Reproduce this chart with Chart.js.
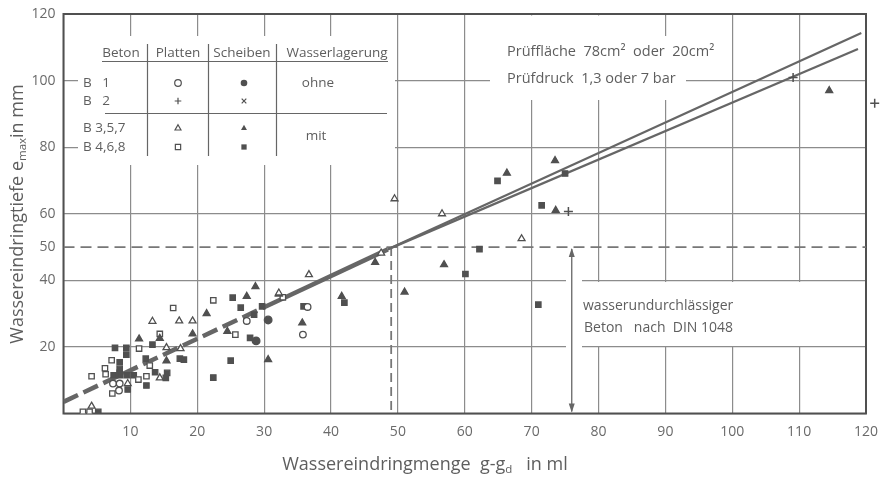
<!DOCTYPE html>
<html><head><meta charset="utf-8">
<script src="https://cdn.jsdelivr.net/npm/chart.js@4/dist/chart.umd.min.js"></script>
<style>html,body{margin:0;padding:0;background:#fff}#wrap{width:880px;height:477px;position:relative}</style>
</head><body><div id="wrap"><canvas id="c"></canvas></div>
<script>
// ---- tick labels ----
const xTicks = [10,20,30,40,50,60,70,80,90,100,110,120];
const yTicks = [20,40,50,60,80,100,120];

// ---- categories (legend table) ----
const betonLabels = ["B   1", "B   2", "B 3,5,7", "B 4,6,8"];
const lagerLabels = ["ohne", "mit"];

// ---- series: [x, y] = [Wassereindringmenge g-g_d in ml, e_max in mm] ----
const b1Platten = [[7.4,9.0],[8.4,9.0],[8.3,6.9],[27.4,27.8],[35.8,23.7],[36.5,32.0]];
const b1Scheiben = [[30.6,28.1],[28.8,21.8]];
const b2Platten = [[109.1,100.9],[121.3,93.2],[75.5,60.7]];
const b2Scheiben = [];
const b357Platten = [[13.3,27.7],[17.3,27.8],[19.3,27.8],[15.4,19.8],[17.5,19.5],[14.4,10.7],[9.6,9.0],[4.2,2.2],
  [32.2,36.2],[36.7,41.7],[49.5,64.5],[56.6,60.0],[68.5,52.5],[47.5,48.2]];
const b357Scheiben = [[11.3,22.4],[14.4,22.6],[19.3,23.9],[21.4,30.0],[15.4,15.8],[24.5,24.7],[27.4,35.2],[28.7,38.1],
  [30.6,16.2],[35.7,27.2],[32.2,35.9],[41.6,35.2],[46.6,45.4],[51.0,36.5],[56.9,44.7],[66.3,72.2],[73.5,76.0],
  [73.6,61.0],[114.5,97.0]];
const b468Platten = [[16.4,31.7],[14.4,23.9],[11.3,19.5],[7.2,16.0],[6.2,13.6],[6.3,11.8],[4.2,11.2],[12.9,14.4],
  [11.2,10.2],[12.4,11.2],[7.3,6.0],[2.9,0.5],[3.9,0.5],[22.4,34.0],[25.7,23.7],[32.8,34.9]];
const b468Scheiben = [[7.7,19.7],[9.4,19.7],[9.4,17.7],[13.3,20.7],[12.3,16.5],[17.4,16.5],[18.0,16.2],[8.4,15.4],
  [8.4,13.4],[8.4,12.2],[13.7,12.4],[15.5,12.2],[15.3,10.7],[12.4,8.4],[9.6,7.2],[5.2,0.5],[7.5,11.5],[8.5,11.5],
  [9.5,11.5],[10.5,11.5],[25.3,34.8],[26.5,31.8],[29.7,32.2],[28.5,29.7],[27.9,22.7],[25.0,15.9],[22.4,10.8],
  [35.9,32.2],[42.0,33.3],[60.1,41.9],[62.2,49.4],[64.9,69.9],[71.5,62.5],[75.0,72.1],[71.0,32.7]];

// ---- reference / regression lines ----
const regCommon = [[0,3.5],[30,31.9],[48.5,49.3]];
const regUpper = [[48.5,49.3],[119.3,114.3]];
const regLower = [[48.5,49.3],[118.8,109.5]];
const limit50 = [[0,50],[120,50]];
const limitX = [[49,50],[49,0]];
const arrowX = 76.0, arrowY = [50, 0];

const pts = a => a.map(p => ({x:p[0], y:p[1]}));
const INK = '#505050', GRID = '#8c8c8c', TXT = '#5e5e5e';

function markerDs(label, data, style, filled, r, extra) {
  return Object.assign({label, data: pts(data), pointStyle: style, pointRadius: r,
    pointBackgroundColor: filled ? INK : '#fff', pointBorderColor: INK, pointBorderWidth: 1.3,
    showLine: false}, extra || {});
}
function lineDs(label, data, w, dash, extra) {
  return Object.assign({label, data: pts(data), showLine: true, pointRadius: 0, borderColor: '#666',
    borderWidth: w, borderDash: dash || [], fill: false}, extra || {});
}

const datasets = [
  markerDs('B 1 Platten', b1Platten, 'circle', false, 3.3),
  markerDs('B 1 Scheiben', b1Scheiben, 'circle', true, 3.8),
  markerDs('B 2 Platten', b2Platten, 'cross', false, 4.5, {pointBorderWidth: 1.5, clip: false}),
  markerDs('B 2 Scheiben', b2Scheiben, 'crossRot', false, 3.5),
  markerDs('B 3,5,7 Platten', b357Platten, 'triangle', false, 4),
  markerDs('B 3,5,7 Scheiben', b357Scheiben, 'triangle', true, 4),
  markerDs('B 4,6,8 Platten', b468Platten, 'rect', false, 3.8),
  markerDs('B 4,6,8 Scheiben', b468Scheiben, 'rect', true, 3.8),
  lineDs('Ausgleich', regCommon, 4.5, [], {segment: {borderDash: c => c.p0DataIndex === 0 ? [16,6] : undefined}}),
  lineDs('Ausgleich oben', regUpper, 2.2),
  lineDs('Ausgleich unten', regLower, 2.2),
  lineDs('Grenze 50 mm', limit50, 1.8, [11,6], {borderColor:'#777'}),
  lineDs('Grenze x', limitX, 1.8, [9,5], {borderColor:'#777'})
];

function drawSym(ctx, type, x, y, r) {
  ctx.save();
  ctx.strokeStyle = INK; ctx.fillStyle = INK; ctx.lineWidth = 1.2;
  ctx.beginPath();
  if (type === 'oc' || type === 'fc') { ctx.arc(x, y, r, 0, Math.PI*2); type==='fc' ? ctx.fill() : ctx.stroke(); }
  else if (type === 'plus') { ctx.moveTo(x-r,y); ctx.lineTo(x+r,y); ctx.moveTo(x,y-r); ctx.lineTo(x,y+r); ctx.stroke(); }
  else if (type === 'x') { ctx.moveTo(x-r*0.7,y-r*0.7); ctx.lineTo(x+r*0.7,y+r*0.7); ctx.moveTo(x+r*0.7,y-r*0.7); ctx.lineTo(x-r*0.7,y+r*0.7); ctx.stroke(); }
  else if (type === 'ot' || type === 'ft') { ctx.moveTo(x, y-r); ctx.lineTo(x+r*0.9, y+r*0.6); ctx.lineTo(x-r*0.9, y+r*0.6); ctx.closePath(); type==='ft' ? ctx.fill() : ctx.stroke(); }
  else { ctx.rect(x-r*0.8, y-r*0.8, r*1.6, r*1.6); type==='fs' ? ctx.fill() : ctx.stroke(); }
  ctx.restore();
}

const decor = {
  id: 'decor',
  beforeDatasetsDraw(chart) {
    const {ctx, chartArea: a} = chart;
    ctx.save();
    ctx.fillStyle = '#fff';
    // blank regions behind text blocks (gridlines interrupted like the original)
    ctx.fillRect(78, 36, 317, 129);
    ctx.fillRect(490, 36, 196, 64);
    ctx.fillRect(500, 15.5, 140, 22);
    ctx.fillRect(566, 282, 235, 64);
    ctx.fillRect(566, 277, 16, 74);
    // frame
    ctx.strokeStyle = INK; ctx.lineWidth = 2;
    ctx.strokeRect(a.left, a.top, a.right - a.left, a.bottom - a.top);
    ctx.restore();
  },
  afterDraw(chart) {
    const {ctx} = chart;
    const xs = chart.scales.x, ys = chart.scales.y;
    ctx.save();
    // points that lie beyond the axis range (drawn outside the frame, as in the original)
    b2Platten.filter(p => p[0] > xs.max).forEach(p => {
      ctx.save(); ctx.lineWidth = 1.5; ctx.strokeStyle = INK;
      const px = xs.getPixelForValue(p[0]), py = ys.getPixelForValue(p[1]);
      ctx.beginPath(); ctx.moveTo(px-4.5, py); ctx.lineTo(px+4.5, py); ctx.moveTo(px, py-4.5); ctx.lineTo(px, py+4.5); ctx.stroke();
      ctx.restore();
    });
    ctx.fillStyle = TXT; ctx.strokeStyle = INK;
    ctx.textBaseline = 'middle';
    // legend table
    ctx.font = '13.5px "Open Sans"';
    ctx.textAlign = 'center';
    ctx.fillText('Beton', 121, 53); ctx.fillText('Platten', 178, 53);
    ctx.fillText('Scheiben', 242, 53); ctx.fillText('Wasserlagerung', 337, 53);
    ctx.lineWidth = 1.2; ctx.strokeStyle = '#666';
    ctx.beginPath();
    ctx.moveTo(102, 61.5); ctx.lineTo(388, 61.5);
    ctx.moveTo(105, 113.5); ctx.lineTo(387, 113.5);
    [147, 208, 276].forEach(x => { ctx.moveTo(x+0.5, 44); ctx.lineTo(x+0.5, 156); });
    ctx.stroke();
    ctx.textAlign = 'left';
    const rowsY = [83, 101, 128, 147];
    betonLabels.forEach((t, i) => ctx.fillText(t, 83, rowsY[i]));
    const syms = [['oc','fc'],['plus','x'],['ot','ft'],['os','fs']];
    syms.forEach((s, i) => { drawSym(ctx, s[0], 178, rowsY[i], 3.3); drawSym(ctx, s[1], 244, rowsY[i], 3.3); });
    ctx.textAlign = 'center';
    ctx.fillText(lagerLabels[0], 318, 83);
    ctx.fillText(lagerLabels[1], 316, 136);
    // annotations
    ctx.textAlign = 'left';
    ctx.font = '14.5px "Open Sans"';
    ctx.fillText('Prüffläche  78cm²  oder  20cm²', 507, 52);
    ctx.fillText('Prüfdruck  1,3 oder 7 bar', 507, 79);
    ctx.font = '14px "Open Sans"';
    ctx.fillText('wasserundurchlässiger', 583, 306);
    ctx.fillText('Beton   nach  DIN 1048', 584, 328);
    // double arrow
    const ax = xs.getPixelForValue(arrowX), ay1 = ys.getPixelForValue(arrowY[0]), ay2 = ys.getPixelForValue(arrowY[1]);
    ctx.strokeStyle = '#666'; ctx.fillStyle = '#666'; ctx.lineWidth = 1.3;
    ctx.beginPath(); ctx.moveTo(ax, ay1 + 2); ctx.lineTo(ax, ay2 - 2); ctx.stroke();
    ctx.beginPath(); ctx.moveTo(ax, ay1 + 1); ctx.lineTo(ax - 3, ay1 + 10); ctx.lineTo(ax + 3, ay1 + 10); ctx.closePath(); ctx.fill();
    ctx.beginPath(); ctx.moveTo(ax, ay2 - 1); ctx.lineTo(ax - 3, ay2 - 10); ctx.lineTo(ax + 3, ay2 - 10); ctx.closePath(); ctx.fill();
    // axis titles with subscripts
    ctx.fillStyle = TXT;
    const big = '18px "Open Sans"', small = '11.5px "Open Sans"';
    function runs(parts) {
      let w = 0;
      parts.forEach(p => { ctx.font = p[1] ? small : big; w += ctx.measureText(p[0]).width; });
      return w;
    }
    function drawRuns(parts, x, y) {
      ctx.textAlign = 'left';
      parts.forEach(p => { ctx.font = p[1] ? small : big; ctx.fillText(p[0], x, y + (p[1] ? 5 : 0)); x += ctx.measureText(p[0]).width; });
    }
    const xt = [['Wassereindringmenge  g-g', 0], ['d', 1], ['   in ml', 0]];
    drawRuns(xt, 425 - runs(xt) / 2, 465);
    const yt = [['Wassereindringtiefe e', 0], ['max', 1], ['in mm', 0]];
    ctx.save();
    ctx.translate(18, 214); ctx.rotate(-Math.PI / 2);
    drawRuns(yt, -runs(yt) / 2, 0);
    ctx.restore();
    ctx.restore();
  }
};

const tickFont = {family: 'Open Sans', size: 14};
new Chart(document.getElementById('c'), {
  type: 'scatter',
  data: {datasets},
  options: {
    responsive: true, maintainAspectRatio: false, animation: false,
    layout: {padding: {top: 14, right: 14, left: 0, bottom: 0}},
    plugins: {legend: {display: false}, tooltip: {enabled: false}},
    scales: {
      x: {
        type: 'linear', min: 0, max: 120,
        afterBuildTicks: s => { s.ticks = [0, ...xTicks].map(v => ({value: v})); },
        afterFit: s => { s.height = 63.5; s.paddingLeft = 0; s.paddingRight = 0; },
        grid: {color: GRID, lineWidth: 1.2, drawTicks: false},
        border: {display: false},
        ticks: {callback: v => v === 0 ? '' : String(v), font: tickFont, color: '#6a6a6a', padding: 10, maxRotation: 0, autoSkip: false}
      },
      y: {
        type: 'linear', min: 0, max: 120,
        afterBuildTicks: s => { s.ticks = [0, ...yTicks].map(v => ({value: v})); },
        afterFit: s => { s.width = 63.5; s.paddingTop = 0; s.paddingBottom = 0; },
        grid: {color: c => (c.tick && c.tick.value === 50) ? 'rgba(0,0,0,0)' : GRID, lineWidth: 1.2, drawTicks: false},
        border: {display: false},
        ticks: {callback: v => v === 0 ? '' : String(v), font: tickFont, color: '#6a6a6a', padding: 8, autoSkip: false}
      }
    }
  },
  plugins: [decor]
});
</script>
</body></html>
